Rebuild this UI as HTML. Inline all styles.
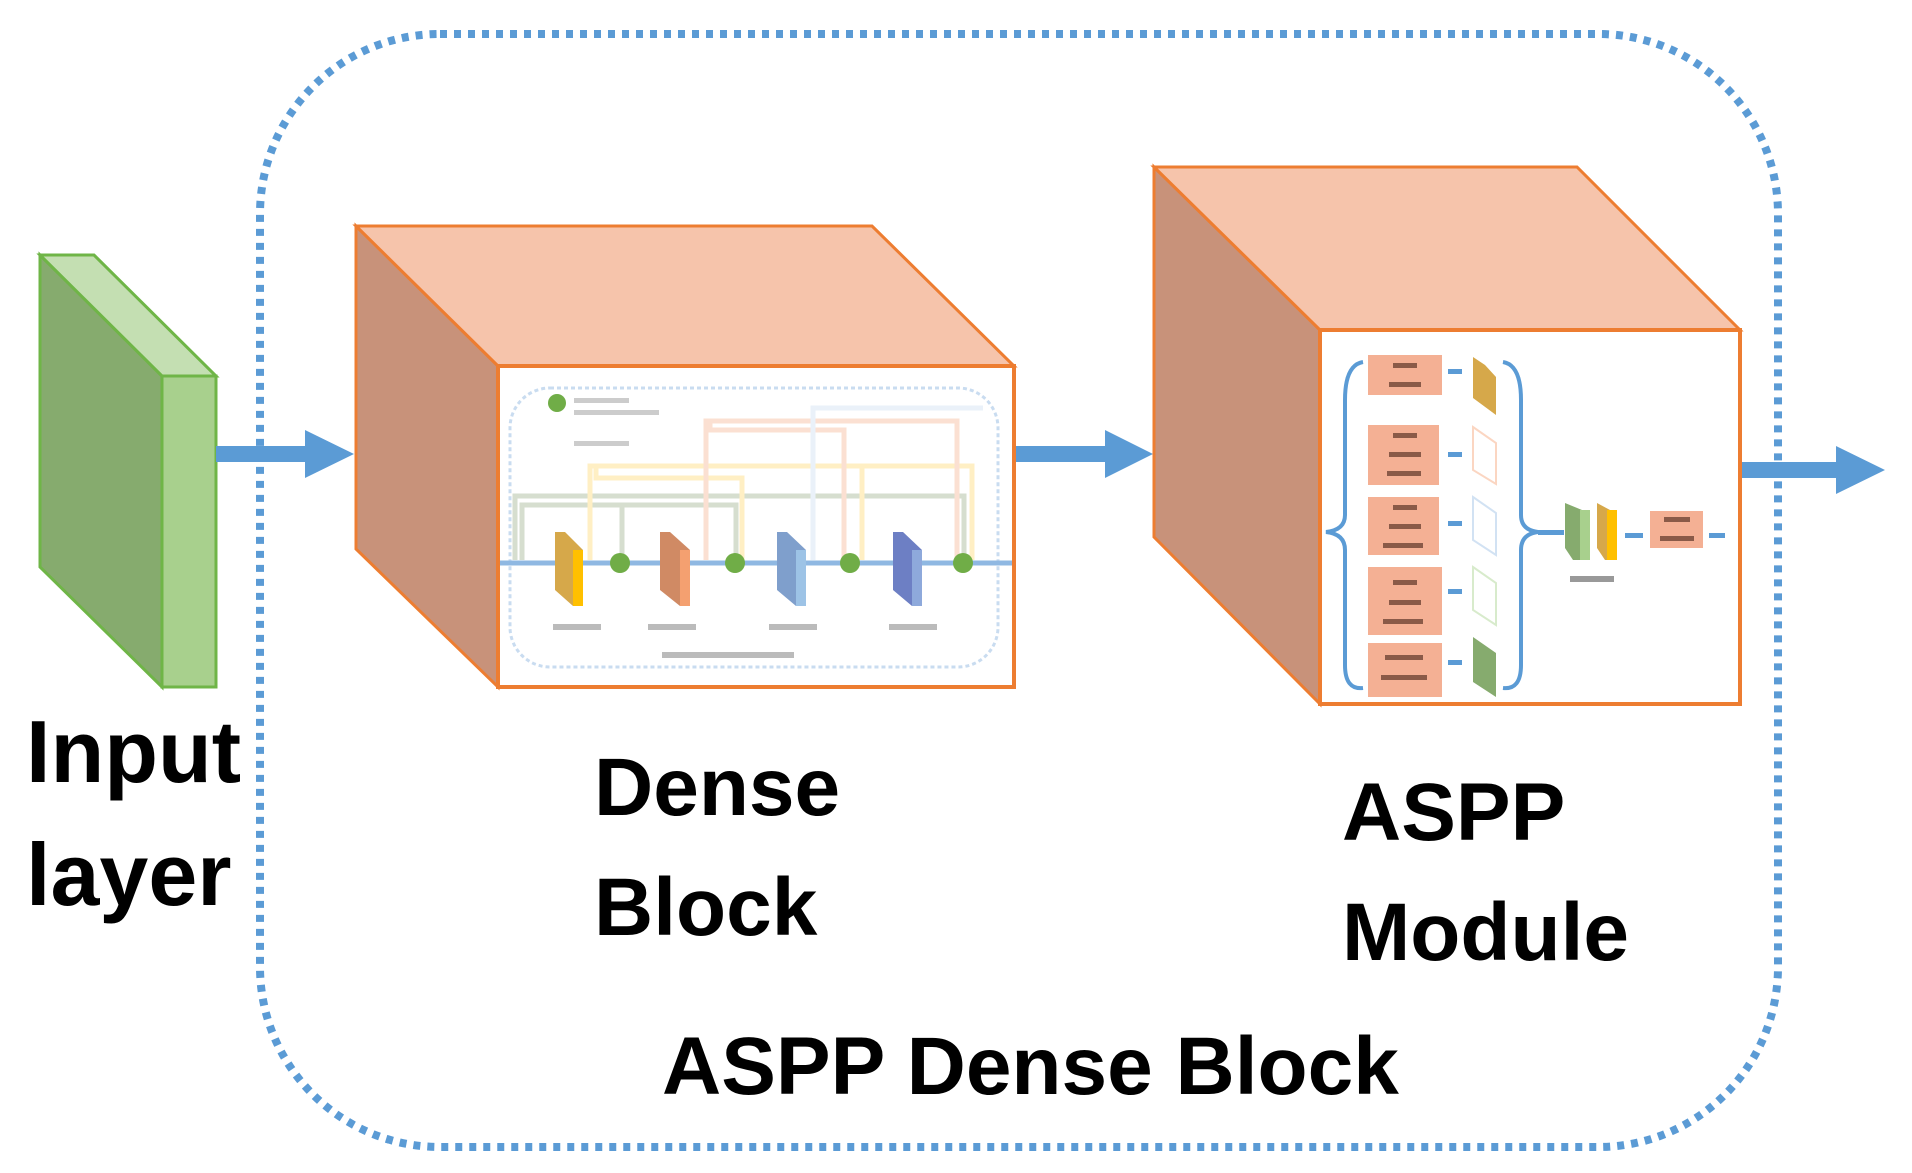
<!DOCTYPE html>
<html><head><meta charset="utf-8"><style>
html,body{margin:0;padding:0;background:#fff;}
svg{display:block;}
text{font-family:"Liberation Sans",sans-serif;}
</style></head><body>
<svg width="1912" height="1173" viewBox="0 0 1912 1173" xmlns="http://www.w3.org/2000/svg">
<rect x="260" y="34" width="1518" height="1113" rx="180" ry="180" fill="none" stroke="#5b9bd5" stroke-width="8" stroke-dasharray="7 7"/>

<polygon points="40,255 162,376 162,687 40,567" fill="#86ab6e" stroke="#6fb547" stroke-width="3"/>
<polygon points="40,255 94,255 216,376 162,376" fill="#c4dfb2" stroke="#6fb547" stroke-width="3"/>
<rect x="162" y="376" width="54" height="311" fill="#a8d08d" stroke="#6fb547" stroke-width="3"/>

<g fill="#5b9bd5">
<rect x="216" y="446" width="92" height="16"/><polygon points="305,430 354,454 305,478"/>
<rect x="997" y="446" width="110" height="16"/><polygon points="1105,430 1153,454 1105,478"/>
<rect x="1740" y="462" width="98" height="16"/><polygon points="1836,446 1885,470 1836,494"/>
</g>

<polygon points="356,226 498,366 498,687 356,549" fill="#c8927a" stroke="#ed7d31" stroke-width="3"/>
<polygon points="356,226 872,226 1014,366 498,366" fill="#f6c4ab" stroke="#ed7d31" stroke-width="3"/>
<rect x="498" y="366" width="516" height="321" fill="#fff" stroke="#ed7d31" stroke-width="4"/>
<g>
<rect x="510" y="388" width="488" height="279" rx="40" fill="none" stroke="#c9dcf0" stroke-width="3" stroke-dasharray="4 3"/>
<circle cx="557" cy="403" r="9" fill="#70ad47"/>
<rect x="574" y="398" width="55" height="5" fill="#ccc"/><rect x="574" y="410" width="85" height="5" fill="#ccc"/>
<rect x="574" y="441" width="55" height="5" fill="#ccc"/>
<g fill="none" stroke-width="5" opacity="0.5">
<path d="M515,560 V496 H848 M522,560 V505 H736 V560 M622,505 V560 M848,496 H964 V560" stroke="#aebfa0"/>
<path d="M590,560 V466 H972 V560 M596,466 V478 H742 V560 M862,466 V560" stroke="#ffe08a"/>
<path d="M706,560 V421 H957 V560 M710,421 V430 H844 V560" stroke="#f8c2a6"/>
<path d="M813,560 V408 H983" stroke="#d6e4f4"/>
</g>
<line x1="500" y1="563" x2="1012" y2="563" stroke="#8fb8e2" stroke-width="5"/>
<polygon points="555,532 565,532 583,550 583,606 573,606 555,590" fill="#d6a84a"/><rect x="573" y="550" width="10" height="56" fill="#ffc000"/>
<polygon points="660,532 670,532 690,550 690,606 680,606 660,590" fill="#d08a64"/><rect x="680" y="550" width="10" height="56" fill="#f4a070"/>
<polygon points="777,532 787,532 806,550 806,606 796,606 777,590" fill="#7f9fcc"/><rect x="796" y="550" width="10" height="56" fill="#9dc3e6"/>
<polygon points="893,532 903,532 922,550 922,606 912,606 893,590" fill="#6d7fc4"/><rect x="912" y="550" width="10" height="56" fill="#8ea9db"/>
<g fill="#70ad47"><circle cx="620" cy="563" r="10"/><circle cx="735" cy="563" r="10"/><circle cx="850" cy="563" r="10"/><circle cx="963" cy="563" r="10"/></g>
<g fill="#bbb"><rect x="553" y="624" width="48" height="6"/><rect x="648" y="624" width="48" height="6"/><rect x="769" y="624" width="48" height="6"/><rect x="889" y="624" width="48" height="6"/><rect x="662" y="652" width="132" height="6"/></g>
</g>

<polygon points="1154,167 1320,330 1320,704 1154,537" fill="#c8927a" stroke="#ed7d31" stroke-width="3"/>
<polygon points="1154,167 1577,167 1740,330 1320,330" fill="#f6c4ab" stroke="#ed7d31" stroke-width="3"/>
<rect x="1320" y="330" width="420" height="374" fill="#fff" stroke="#ed7d31" stroke-width="4"/>
<g>
<path d="M1363,362 Q1345,365 1345,400 V515 Q1345,530 1326,532 Q1345,534 1345,550 V665 Q1345,690 1363,688" fill="none" stroke="#5b9bd5" stroke-width="4"/>
<path d="M1503,362 Q1521,365 1521,400 V515 Q1521,530 1538,532 Q1521,534 1521,550 V665 Q1521,690 1503,688" fill="none" stroke="#5b9bd5" stroke-width="4"/>
<g fill="#f4b094"><rect x="1368" y="355" width="74" height="40"/><rect x="1368" y="425" width="71" height="60"/><rect x="1368" y="497" width="71" height="58"/><rect x="1368" y="567" width="74" height="68"/><rect x="1368" y="643" width="74" height="54"/><rect x="1650" y="511" width="53" height="37"/></g>
<g fill="#5b9bd5"><rect x="1448" y="369" width="14" height="5"/><rect x="1448" y="452" width="14" height="5"/><rect x="1448" y="521" width="14" height="5"/><rect x="1448" y="589" width="14" height="5"/><rect x="1448" y="660" width="14" height="5"/><rect x="1538" y="530" width="26" height="5"/><rect x="1625" y="533" width="18" height="5"/><rect x="1709" y="533" width="16" height="5"/></g>
<polygon points="1473,357 1485,365 1496,377 1496,415 1473,398" fill="#d6a84a"/>
<polygon points="1473,427 1496,443 1496,484 1473,470" fill="none" stroke="#fbd6c2" stroke-width="2"/>
<polygon points="1473,497 1496,513 1496,555 1473,540" fill="none" stroke="#d2e2f3" stroke-width="2"/>
<polygon points="1473,567 1496,583 1496,625 1473,610" fill="none" stroke="#d8ebcc" stroke-width="2"/>
<polygon points="1473,637 1496,653 1496,697 1473,682" fill="#86ab6e"/>
<polygon points="1565,503 1582,510 1590,560 1573,560 1565,548" fill="#86ab6e"/>
<rect x="1580" y="510" width="10" height="50" fill="#a8d08d"/>
<polygon points="1597,503 1610,510 1617,560 1605,560 1597,548" fill="#d6a84a"/>
<rect x="1607" y="510" width="10" height="50" fill="#ffc000"/>
<g fill="#999"><rect x="1570" y="576" width="44" height="6"/></g>
<g fill="#8a5a48"><rect x="1393" y="363" width="24" height="5"/><rect x="1389" y="382" width="32" height="5"/><rect x="1393" y="433" width="24" height="5"/><rect x="1389" y="452" width="32" height="5"/><rect x="1387" y="471" width="34" height="5"/><rect x="1393" y="505" width="24" height="5"/><rect x="1389" y="524" width="32" height="5"/><rect x="1383" y="543" width="40" height="5"/><rect x="1393" y="580" width="24" height="5"/><rect x="1389" y="600" width="32" height="5"/><rect x="1383" y="619" width="40" height="5"/><rect x="1385" y="655" width="38" height="5"/><rect x="1381" y="675" width="46" height="5"/><rect x="1664" y="517" width="26" height="5"/><rect x="1660" y="536" width="34" height="5"/></g>
</g>

<g font-weight="bold" font-size="82" fill="#000">
<text x="26" y="782" font-size="88">Input</text>
<text x="26" y="905" font-size="88">layer</text>
<text x="594" y="815">Dense</text>
<text x="594" y="935">Block</text>
<text x="1342" y="840">ASPP</text>
<text x="1342" y="960">Module</text>
<text x="662" y="1094">ASPP Dense Block</text>
</g>
</svg>
</body></html>
